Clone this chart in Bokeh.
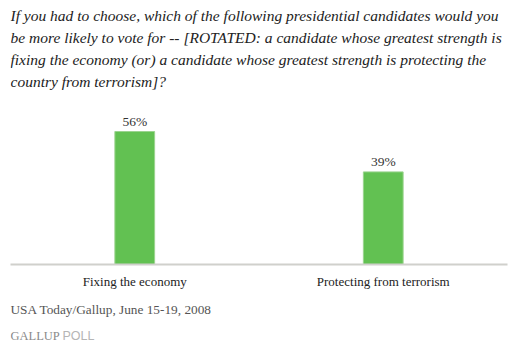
from bokeh.plotting import figure
from bokeh.models import ColumnDataSource, Label, Range1d, FactorRange
from bokeh.layouts import column
from bokeh.core.properties import value
from bokeh.embed import file_html
from bokeh.resources import INLINE

categories = ["Fixing the economy", "Protecting from terrorism"]
values = [56, 39]
value_labels = ["56%", "39%"]
question_lines = [
    "If you had to choose, which of the following presidential candidates would you",
    "be more likely to vote for -- [ROTATED: a candidate whose greatest strength is",
    "fixing the economy (or) a candidate whose greatest strength is protecting the",
    "country from terrorism]?",
]
source_note = "USA Today/Gallup, June 15-19, 2008"

SERIF = "'Liberation Serif'"
W = 514
HEAD_H, MAIN_H, FOOT_H = 100, 194, 60
bottom, left, right = 30, 10, 7
frame_h = MAIN_H - bottom
ppu = 2.375
ymax = frame_h / ppu


def blank(h):
    f = figure(frame_width=W, frame_height=h, x_range=Range1d(0, W), y_range=Range1d(0, h),
               output_backend="svg", toolbar_location=None,
               x_axis_location=None, y_axis_location=None,
               min_border=0, min_border_left=0, min_border_right=0,
               min_border_top=0, min_border_bottom=0)
    f.outline_line_color = None
    f.grid.visible = False
    return f


# header with the question
head = blank(HEAD_H)
for i, line in enumerate(question_lines):
    head.add_layout(Label(x=0, y=HEAD_H - (15 + 22 * i), text=line, text_font=SERIF,
                          text_font_style="italic", text_font_size="15.5px",
                          text_color="#222222", text_baseline="middle"))

# main chart
src = ColumnDataSource(dict(cat=categories, val=values, lab=value_labels))
p = figure(width=W, height=MAIN_H, x_range=FactorRange(*categories, range_padding=0),
           y_range=Range1d(0, ymax), output_backend="svg", toolbar_location=None,
           y_axis_location=None,
           min_border_top=0, min_border_bottom=bottom, min_border_left=left,
           min_border_right=right)
p.outline_line_color = None
p.grid.visible = False

p.vbar(x="cat", top="val", width=0.16, source=src, fill_color="#62c152",
       line_color="#9bd48f", line_width=1)
p.text(x="cat", y="val", text="lab", source=src, text_align="center",
       text_baseline="bottom", y_offset=-3, text_font=value(SERIF),
       text_font_size="13.5px", text_color="#333333")

ax = p.xaxis[0]
ax.axis_line_color = "#d0d0cc"
ax.axis_line_width = 2
ax.major_tick_line_color = None
ax.minor_tick_line_color = None
ax.major_tick_out = 0
ax.major_tick_in = 0
ax.major_label_text_font = SERIF
ax.major_label_text_font_size = "13px"
ax.major_label_text_color = "#222222"
ax.major_label_standoff = 9

# footer
foot = blank(FOOT_H)
foot.add_layout(Label(x=0, y=FOOT_H - 15, text=source_note, text_font=SERIF,
                      text_font_size="13.3px", text_color="#555555", text_baseline="middle"))
foot.add_layout(Label(x=0, y=FOOT_H - 41, text="GALLUP", text_font=SERIF,
                      text_font_size="12.5px", text_color="#8a8a8a", text_baseline="middle"))
foot.add_layout(Label(x=52, y=FOOT_H - 41, text="POLL", text_font="'Liberation Sans'",
                      text_font_size="12.5px", text_color="#b5b5b5", text_baseline="middle"))

layout = column(head, p, foot, spacing=0)
open("out.html", "w").write(file_html(layout, INLINE))
